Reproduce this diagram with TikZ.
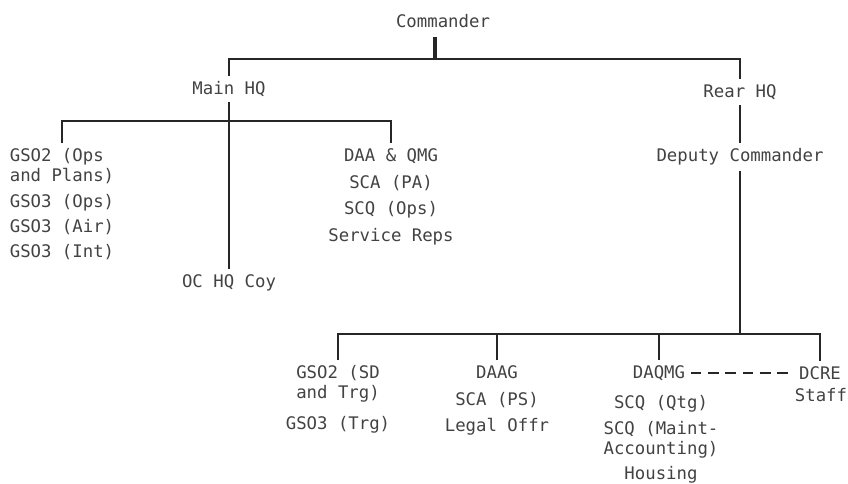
\documentclass[tikz,border=0pt]{standalone}
\usepackage{fontspec}
\setmonofont{DejaVu Sans Mono}
\usetikzlibrary{positioning}
\definecolor{typeink}{RGB}{66,66,66}
\definecolor{ruleink}{RGB}{38,38,38}
\tikzset{
  post/.style={font=\ttfamily\fontsize{13}{15}\selectfont,text=typeink,
    inner sep=4pt},
  postlist/.style={post,align=center,anchor=north},
  postleft/.style={post,align=left,anchor=north},
  link/.style={draw=ruleink,line width=0.8pt},
  heavylink/.style={draw=ruleink,line width=3pt},
  liaison/.style={draw=ruleink,line width=0.8pt,dash pattern=on 8pt off 5pt}
}
\begin{document}
\begin{tikzpicture}[x=0.75pt,y=-0.75pt]
  \useasboundingbox (0,0) rectangle (848,483);
  % command level
  \node[post] (cmdr) at (443,21) {Commander};
  \node[post] (mainhq) at (229,89) {Main HQ};
  \node[post] (rearhq) at (740,92) {Rear HQ};
  \coordinate (hub) at (435,59);
  \draw[heavylink,shorten >=3pt] (hub) -- (hub |- cmdr.south);
  \draw[link] (mainhq.north) |- (hub) -| (rearhq.north);
  % main HQ staff
  \node[postleft] (opsgroup) at (62,143)
    {GSO2 (Ops\\and Plans)\\[4pt]GSO3 (Ops)\\[4pt]GSO3 (Air)\\[4pt]GSO3 (Int)};
  \node[postlist] (repsgroup) at (391,143)
    {DAA \& QMG\\[5pt]SCA (PA)\\[5pt]SCQ (Ops)\\[5pt]Service Reps};
  \node[post] (ochq) at (229,283) {OC HQ Coy};
  \coordinate (mainbus) at (229,121);
  \draw[link] (mainhq.south) -- (ochq.north);
  \draw[link] (opsgroup.north) |- (mainbus) -| (repsgroup.north);
  % rear HQ staff
  \node[post] (deputy) at (740,157) {Deputy Commander};
  \coordinate (rearbus) at (740,334);
  \draw[link] (rearhq.south) -- (deputy.north);
  \draw[link] (deputy.south) -- (rearbus);
  \node[postlist] (trggroup) at (338,360)
    {GSO2 (SD\\and Trg)\\[8pt]GSO3 (Trg)};
  \node[postlist] (daag) at (497,360)
    {DAAG\\[5pt]SCA (PS)\\[5pt]Legal Offr};
  \node[post] (daqmg) at (659,373) {DAQMG};
  \node[postlist] (qtggroup) at (661,390)
    {SCQ (Qtg)\\[4pt]SCQ (Maint-\\Accounting)\\[4pt]Housing};
  \node[post] (dcre) at (820,373) {DCRE};
  \node[post] (dcrestaff) at (821,395) {Staff};
  \draw[link] (trggroup.north) |- (rearbus) -| (dcre.north);
  \draw[link] (daag.north) -- (daag.north |- rearbus);
  \draw[link] (daqmg.north) -- (daqmg.north |- rearbus);
  \draw[liaison] (daqmg.east) -- (dcre.west);
\end{tikzpicture}
\end{document}
